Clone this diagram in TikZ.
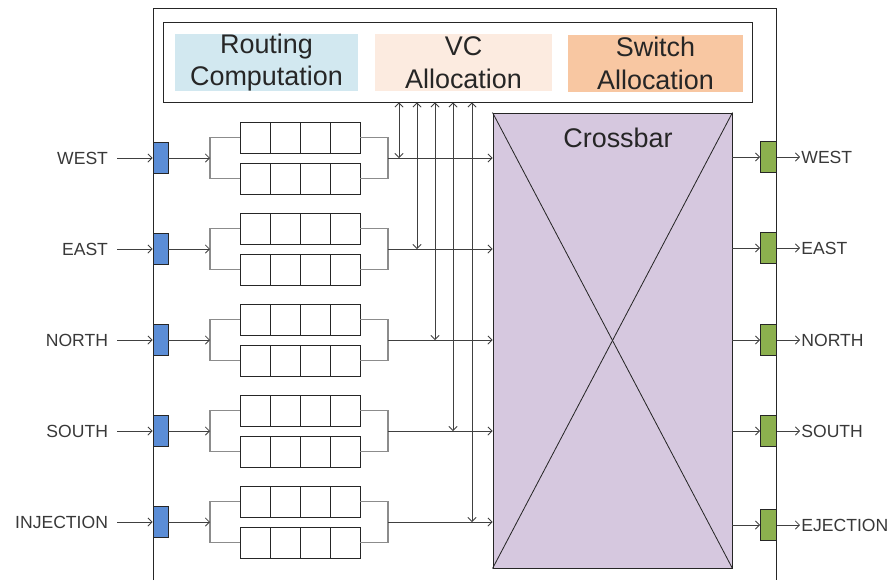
\documentclass[tikz,border=0pt]{standalone}
\usepackage{fontspec}
\setmainfont{Liberation Sans}
\usetikzlibrary{arrows.meta, calc}
\definecolor{rccol}{HTML}{D2E8F0}
\definecolor{vacol}{HTML}{FCEBE0}
\definecolor{sacol}{HTML}{F8C7A2}
\definecolor{xbarcol}{HTML}{D6C8DF}
\definecolor{inportcol}{HTML}{5B8DD6}
\definecolor{outportcol}{HTML}{8CB04E}
\definecolor{wirecol}{HTML}{404040}
\definecolor{forkcol}{HTML}{8C8C8C}

\begin{document}
\begin{tikzpicture}[
    x=0.03cm, y=-0.03cm,
    >={Straight Barb[length=3.5pt, width=7pt]},
    portlabel/.style={font=\fontsize{15}{18}\selectfont, text=black!78, inner sep=1pt},
    stage/.style={minimum height=57*0.03cm, inner sep=0pt, align=center,
                  font=\fontsize{23}{28}\selectfont, text=black!85},
    inport/.style={draw=black!85, fill=inportcol, line width=0.8pt,
                   minimum width=15*0.03cm, minimum height=31*0.03cm, inner sep=0pt},
    outport/.style={inport, fill=outportcol, minimum width=16*0.03cm},
    cell/.style={draw=black!85, line width=0.8pt, minimum width=30*0.03cm,
                 minimum height=31*0.03cm, inner sep=0pt},
    link/.style={->, draw=wirecol, line width=0.7pt},
    feed/.style={draw=forkcol, line width=1pt}
  ]
  \useasboundingbox (0,0) rectangle (894,580);

  % ---- Router boundary ----
  \draw[black!85, line width=0.8pt] (153,580) -- (153,8) -- (776,8) -- (776,580);

  % ---- Pipeline stages ----
  \node[draw=black!85, line width=0.8pt, minimum width=589*0.03cm,
        minimum height=80*0.03cm] (stages) at (457.5,62) {};
  \node[stage, fill=rccol, minimum width=183*0.03cm] (rc) at (266.5,62.5)
    {Routing\\Computation};
  \node[stage, fill=vacol, minimum width=177*0.03cm] (va) at (463.5,62.5)
    {VC\\Allocation};
  \node[stage, fill=sacol, minimum width=175*0.03cm] (sa) at (655.5,63)
    {Switch\\Allocation};

  % ---- Crossbar ----
  \node[draw=black!85, fill=xbarcol, line width=0.8pt, minimum width=239*0.03cm,
        minimum height=455*0.03cm] (xbar) at (612.5,340.5) {};
  \draw[black!85, line width=0.7pt] (xbar.north west) -- (xbar.south east);
  \draw[black!85, line width=0.7pt] (xbar.north east) -- (xbar.south west);
  \node[font=\fontsize{23}{28}\selectfont, text=black!85] (xbarlabel) at (618,138)
    {Crossbar};

  % ---- Input ports, VC buffers and output ports ----
  % row / input y / input name / output y / output name / tap x
  \foreach \r/\y/\inname/\oy/\outname/\tx in {0/158/WEST/157/WEST/399,
      1/249/EAST/248/EAST/417, 2/340/NORTH/340/NORTH/435,
      3/431/SOUTH/431/SOUTH/453, 4/522/INJECTION/525/EJECTION/472} {
    \node[portlabel, anchor=east, inner xsep=7.5pt] (inlbl-\r) at (117,\y) {\inname};
    \node[inport] (in-\r) at (160.5,\y) {};
    \coordinate (split-\r) at (210,\y);
    \coordinate (join-\r) at (388,\y);
    \coordinate (tap-\r) at (\tx,\y);

    % two virtual channels, four flit slots each
    \foreach \k in {1,...,4} {
      \node[cell] (buf-\r-a-\k) at (225+30*\k,\y-20.5) {};
      \node[cell] (buf-\r-b-\k) at (225+30*\k,\y+20.5) {};
    }
    \draw[feed] (buf-\r-a-1.west) -| (split-\r) |- (buf-\r-b-1.west);
    \draw[feed] (buf-\r-a-4.east) -| (join-\r) |- (buf-\r-b-4.east);

    \draw[link] (inlbl-\r.east) -- (in-\r.west);
    \draw[link] (in-\r.east) -- (split-\r);
    \draw[link] (join-\r) -- (join-\r -| xbar.west);
    \draw[link, <->] (tap-\r |- stages.south) -- (tap-\r);

    \node[outport] (out-\r) at (768.5,\oy) {};
    \node[portlabel, anchor=west] (outlbl-\r) at (800,\oy) {\outname};
    \draw[link] (xbar.east |- out-\r) -- (out-\r.west);
    \draw[link] (out-\r.east) -- (outlbl-\r.west);
  }

\end{tikzpicture}
\end{document}
